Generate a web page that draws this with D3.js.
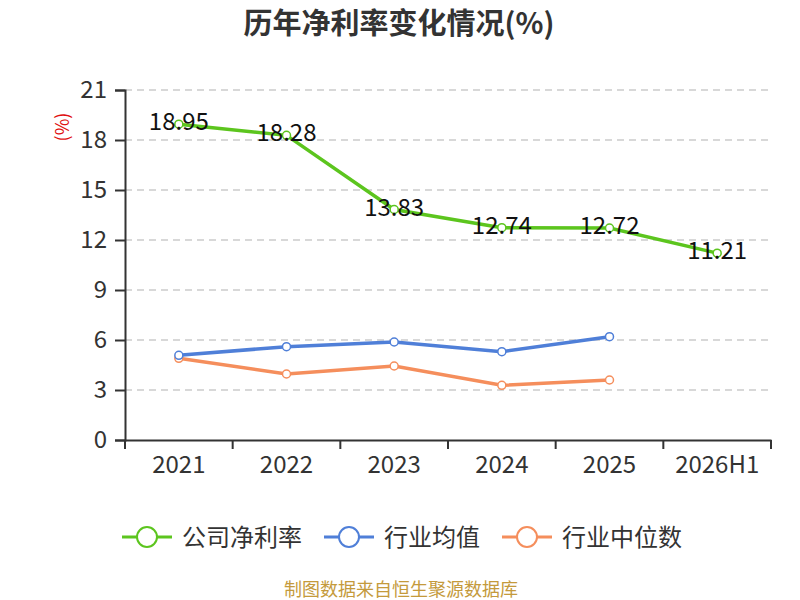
<!DOCTYPE html>
<html>
<head>
<meta charset="utf-8">
<script src="https://cdn.jsdelivr.net/npm/d3@7"></script>
<style>
  body { margin: 0; background: #fff; }
  text { font-family: "Noto Sans CJK SC", "Noto Sans", sans-serif; }
</style>
</head>
<body>
<div id="chart"></div>
<script>
var width = 800;
var height = 600;

var categories = ["2021", "2022", "2023", "2024", "2025", "2026H1"];
var companyRate = [18.95, 18.28, 13.83, 12.74, 12.72, 11.21];
var industryAvg = [5.08, 5.60, 5.88, 5.30, 6.20];
var industryMedian = [4.90, 3.96, 4.44, 3.28, 3.60];
var yTicks = [0, 3, 6, 9, 12, 15, 18, 21];
var seriesNames = ["公司净利率", "行业均值", "行业中位数"];
var seriesColors = ["#5cc51e", "#4f7fd8", "#f58e5c"];

var plotLeft = 125, plotRight = 771, plotTop = 90, plotBottom = 440;

var svg = d3.select("#chart")
            .append("svg")
            .attr("width", width)
            .attr("height", height);

var x = d3.scaleBand()
          .domain(categories)
          .range([plotLeft, plotRight]);

var y = d3.scaleLinear()
          .domain([0, 21])
          .range([plotBottom, plotTop]);

// title
svg.append("text")
    .attr("x", 399)
    .attr("y", 34)
    .attr("text-anchor", "middle")
    .attr("font-size", 29)
    .attr("font-weight", "bold")
    .attr("fill", "#333")
    .text("历年净利率变化情况(%)");

// grid lines
svg.append("g")
    .selectAll("line")
    .data(yTicks.filter(d => d > 0))
    .enter()
    .append("line")
    .attr("x1", plotLeft)
    .attr("x2", plotRight)
    .attr("y1", d => y(d))
    .attr("y2", d => y(d))
    .attr("stroke", "#ccc")
    .attr("stroke-width", 1.5)
    .attr("stroke-dasharray", "7,5");

// y axis
var yAxis = svg.append("g")
    .attr("transform", "translate(" + plotLeft + ",0)")
    .call(d3.axisLeft(y).tickValues(yTicks).tickSize(10).tickPadding(8));
yAxis.select(".domain").attr("stroke", "#333").attr("stroke-width", 2);
yAxis.selectAll(".tick line").attr("stroke", "#333").attr("stroke-width", 2);
yAxis.selectAll("text")
    .attr("font-size", 24)
    .attr("fill", "#333")
    .attr("font-family", "'Noto Sans CJK SC', sans-serif");

// x axis
var xAxis = svg.append("g")
    .attr("transform", "translate(0," + plotBottom + ")")
    .call(d3.axisBottom(x).tickSize(0).tickPadding(16));
xAxis.select(".domain").attr("stroke", "#333").attr("stroke-width", 2);
xAxis.selectAll("text")
    .attr("font-size", 24)
    .attr("fill", "#333")
    .attr("font-family", "'Noto Sans CJK SC', sans-serif");

// x ticks between bands
var bounds = categories.map(c => x(c)).concat([plotRight]);
svg.append("g")
    .selectAll("line")
    .data(bounds)
    .enter()
    .append("line")
    .attr("x1", d => d)
    .attr("x2", d => d)
    .attr("y1", plotBottom)
    .attr("y2", plotBottom + 9)
    .attr("stroke", "#333")
    .attr("stroke-width", 2);

// y axis unit
svg.append("text")
    .attr("transform", "translate(69,127) rotate(-90)")
    .attr("text-anchor", "middle")
    .attr("font-size", 18)
    .attr("fill", "#e01010")
    .text("(%)");

var lineGenerator = d3.line()
                      .x((d, i) => x(categories[i]) + x.bandwidth() / 2)
                      .y(d => y(d));

var allSeries = [companyRate, industryAvg, industryMedian];

// draw lines bottom to top so green is on top
[2, 1, 0].forEach(function(k) {
    var data = allSeries[k];
    svg.append("path")
        .attr("d", lineGenerator(data))
        .attr("stroke", seriesColors[k])
        .attr("stroke-width", 3.5)
        .attr("fill", "none");
    svg.append("g")
        .selectAll("circle")
        .data(data)
        .enter()
        .append("circle")
        .attr("cx", (d, i) => x(categories[i]) + x.bandwidth() / 2)
        .attr("cy", d => y(d))
        .attr("r", 4)
        .attr("fill", "#fff")
        .attr("stroke", seriesColors[k])
        .attr("stroke-width", 1.5);
});

// data labels for company series
svg.append("g")
    .selectAll("text")
    .data(companyRate)
    .enter()
    .append("text")
    .attr("x", (d, i) => x(categories[i]) + x.bandwidth() / 2)
    .attr("y", d => y(d) + 6)
    .attr("text-anchor", "middle")
    .attr("font-size", 24)
    .attr("fill", "#111")
    .attr("font-family", "'Noto Sans CJK SC', sans-serif")
    .text(d => d.toFixed(2));

// legend
var legendX = [122, 324, 502];
var legend = svg.append("g");
seriesNames.forEach(function(name, k) {
    var g = legend.append("g").attr("transform", "translate(" + legendX[k] + ",537)");
    g.append("line")
        .attr("x1", 0).attr("x2", 50)
        .attr("y1", 0).attr("y2", 0)
        .attr("stroke", seriesColors[k])
        .attr("stroke-width", 3);
    g.append("circle")
        .attr("cx", 25).attr("cy", 0).attr("r", 10)
        .attr("fill", "#fff")
        .attr("stroke", seriesColors[k])
        .attr("stroke-width", 2);
    g.append("text")
        .attr("x", 60).attr("y", 9)
        .attr("font-size", 24)
        .attr("fill", "#333")
        .text(name);
});

// source
svg.append("text")
    .attr("x", 401)
    .attr("y", 596)
    .attr("text-anchor", "middle")
    .attr("font-size", 18)
    .attr("fill", "#c49a3c")
    .text("制图数据来自恒生聚源数据库");
</script>
</body>
</html>
